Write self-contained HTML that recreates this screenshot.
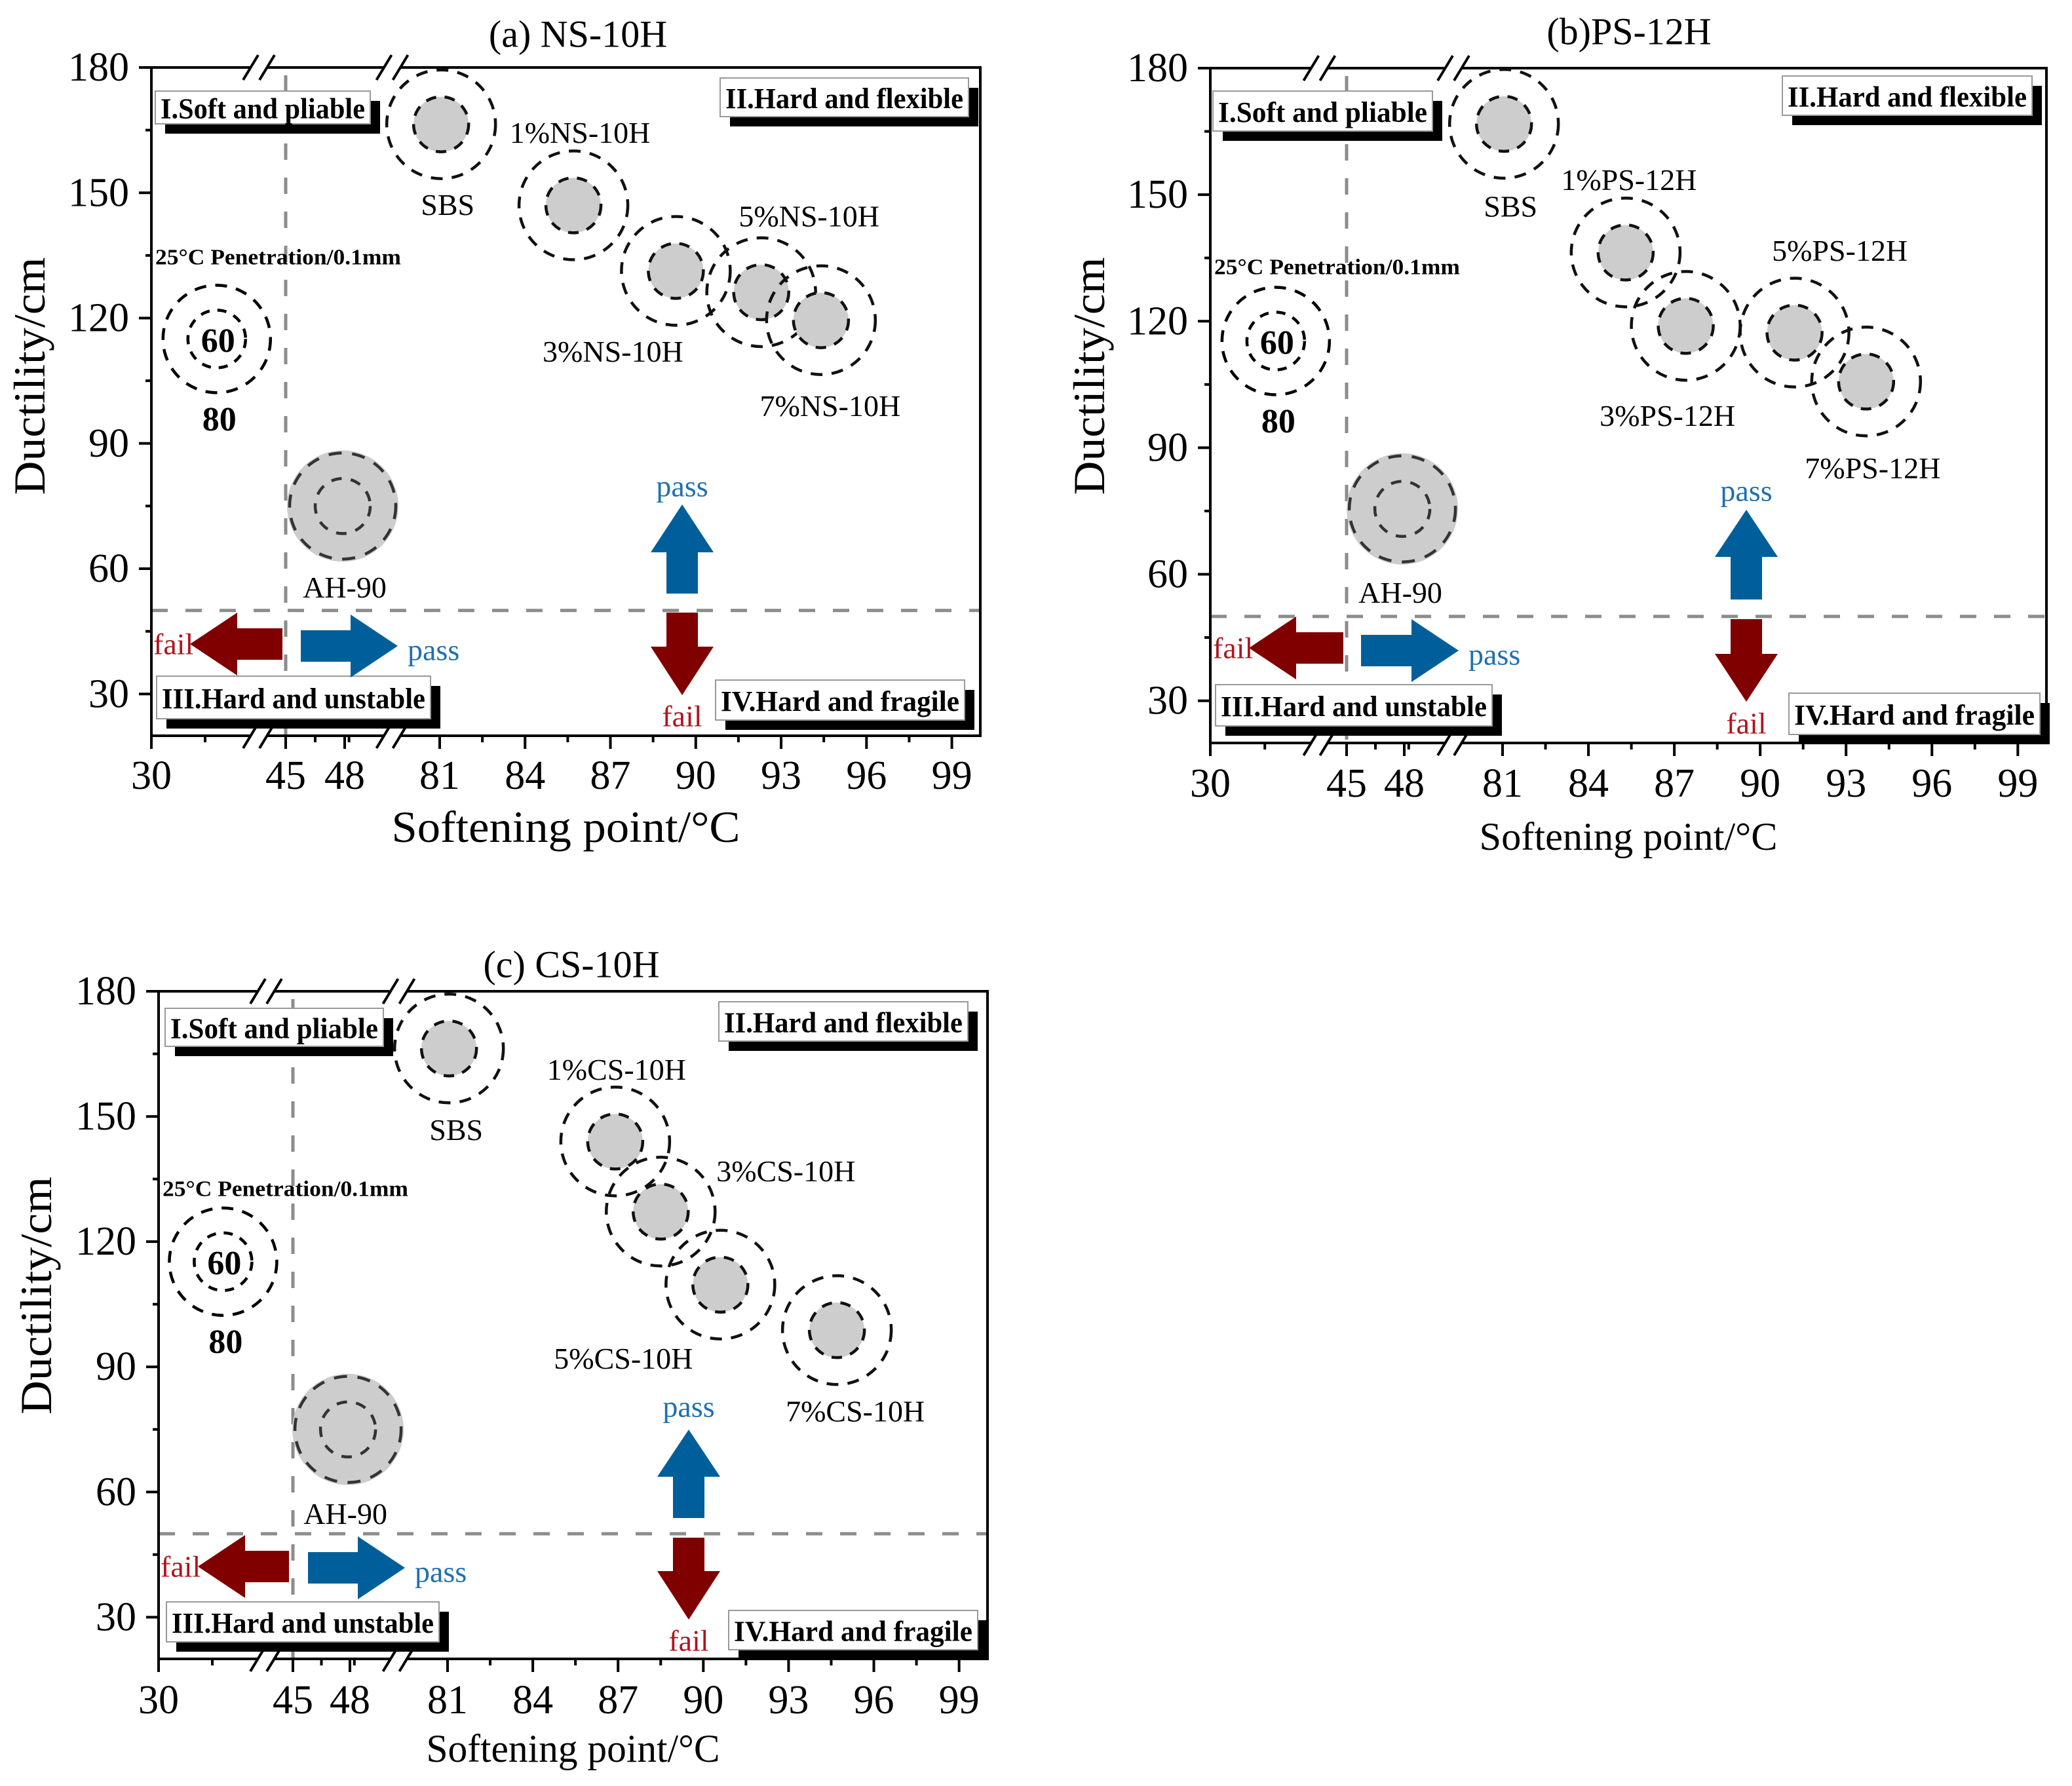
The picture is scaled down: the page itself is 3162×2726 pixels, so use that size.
<!DOCTYPE html>
<html><head><meta charset="utf-8">
<style>
html,body{margin:0;padding:0;background:#fff;}
svg, svg text{font-family:"Liberation Serif","DejaVu Serif",serif;}
</style></head>
<body>
<svg id="fig" xmlns="http://www.w3.org/2000/svg" width="3162" height="2721" viewBox="0 0 3162 2721" font-family="Liberation Serif, DejaVu Serif, serif"></svg>
<script>
// ---------- DATA ----------
// Panel (a) NS-10H
const namesA = ["SBS","1%NS-10H","3%NS-10H","5%NS-10H","7%NS-10H"];
const softA  = [81.05, 85.7, 89.3, 92.3, 94.4];
const ductA  = [166.4, 147, 131.3, 126.2, 119.5];
// Panel (b) PS-12H
const namesB = ["SBS","1%PS-12H","3%PS-12H","5%PS-12H","7%PS-12H"];
const softB  = [81.05, 85.3, 87.4, 91.2, 93.7];
const ductB  = [166.8, 136.3, 118.9, 117.3, 105.7];
// Panel (c) CS-10H
const namesC = ["SBS","1%CS-10H","3%CS-10H","5%CS-10H","7%CS-10H"];
const softC  = [81.05, 86.9, 88.5, 90.6, 94.7];
const ductC  = [166.3, 144, 127.2, 109.7, 98.8];
// Base asphalt AH-90 and penetration reference circle
const ahSoft = [47.9, 47.9, 47.9];
const ahDuct = [75, 75.5, 75];
const refSoft = [37.3, 37.2, 37.2];
const refDuct = [115, 115.3, 115.2];
// thresholds
const softLimit = 45;
const ductLimit = 50;
// ticks
const xMajor = [30,45,48,81,84,87,90,93,96,99];
const xMinor = [36,46.5,49.5,82.5,85.5,88.5,91.5,94.5,97.5];
const yMajor = [30,60,90,120,150,180];
const yMinor = [45,75,105,135,165];

// ---------- LAYOUT (pixel calibration, not data) ----------
const panels = [
 {id:"a", title:"(a) NS-10H", names:namesA, sx:softA, sy:ductA,
  xd:[30,45,48,81,100], xp:[231,436,526,671,1496], y0:1123, y1:103,
  lab:[[10,123],[10,-111],[-96,123],[73,-116],[14,131]], ahLab:[3,124],
  titleX:882, titleY:52, titleFs:58, xtY:1184, xtFs:62, xTitleY:1262, xTitleFs:68, xTitleLen:532, yTitleX:45, yTitleFs:68,
  boxes:[[237,139,565,189,"I.Soft and pliable"],[1099,119,1478,178,"II.Hard and flexible"],[239,1032,657,1097,"III.Hard and unstable"],[1092,1038,1472,1099,"IV.Hard and fragile"]],
  lArrow:[290,431,983], rArrow:[459,607,986], uArrow:[1041,770,843,906], dArrow:[1041,935,987,1061],
  passUpY:742, failDnY:1093, failX:234, passX:622, penY:393},
 {id:"b", title:"(b)PS-12H", names:namesB, sx:softB, sy:ductB,
  xd:[30,45,48,81,100], xp:[1847,2055,2143,2293,3123], y0:1134, y1:104,
  lab:[[10,126],[5,-111],[-28,137],[69,-125],[10,132]], ahLab:[-3,128],
  titleX:2486, titleY:48, titleFs:58, xtY:1196, xtFs:62, xTitleY:1277, xTitleFs:60, xTitleLen:455, yTitleX:1662, yTitleFs:68,
  boxes:[[1851,139,2186,200,"I.Soft and pliable"],[2720,116,3101,176,"II.Hard and flexible"],[1855,1045,2277,1108,"III.Hard and unstable"],[2730,1058,3113,1121,"IV.Hard and fragile"]],
  lArrow:[1906,2050,989], rArrow:[2077,2226,993], uArrow:[2665,778,850,915], dArrow:[2665,945,998,1071],
  passUpY:749, failDnY:1104, failX:1851, passX:2241, penY:408},
 {id:"c", title:"(c) CS-10H", names:namesC, sx:softC, sy:ductC,
  xd:[30,45,48,81,100], xp:[242,447,534,683,1507], y0:2532, y1:1513,
  lab:[[11,124],[2,-110],[191,-62],[-148,113],[28,124]], ahLab:[-4,129],
  titleX:872, titleY:1472, titleFs:58, xtY:2595, xtFs:62, xTitleY:2669, xTitleFs:60, xTitleLen:448, yTitleX:55, yTitleFs:68,
  boxes:[[252,1539,585,1597,"I.Soft and pliable"],[1097,1529,1477,1589,"II.Hard and flexible"],[254,2445,670,2506,"III.Hard and unstable"],[1112,2458,1492,2518,"IV.Hard and fragile"]],
  lArrow:[302,441,2391], rArrow:[470,618,2393], uArrow:[1051,2182,2254,2317], dArrow:[1051,2347,2398,2472],
  passUpY:2147, failDnY:2504, failX:245, passX:633, penY:1815}
];
const dataSets = [[ahSoft[0],ahDuct[0],refSoft[0],refDuct[0]],[ahSoft[1],ahDuct[1],refSoft[1],refDuct[1]],[ahSoft[2],ahDuct[2],refSoft[2],refDuct[2]]];

const NS="http://www.w3.org/2000/svg";
const FONT="Liberation Serif, DejaVu Serif, serif";
const svg=document.getElementById("fig");
function mk(tag, attrs, parent, text){
  const e=document.createElementNS(NS,tag);
  for(const k in attrs) e.setAttribute(k, attrs[k]);
  if(tag==="text") e.setAttribute("font-family", FONT);
  if(text!==undefined) e.textContent=text;
  (parent||svg).appendChild(e);
  return e;
}
const RED="#800000", BLUE="#005f9a", FAILTXT="#b0141e", PASSTXT="#1f6fb0";

panels.forEach((P,pi)=>{
  const g=mk("g",{});
  
  
  const xS=v=>{
    const d=P.xd,p=P.xp;
    for(let i=0;i<d.length-1;i++){ if(v<=d[i+1]||i===d.length-2) return p[i]+(v-d[i])/(d[i+1]-d[i])*(p[i+1]-p[i]); }
  };
  const yS=v=>P.y0+(v-20)/(180-20)*(P.y1-P.y0);
  const L=P.xp[0], R=P.xp[4], T=P.y1, B=P.y0;

  const t=mk("text",{x:P.titleX,y:P.titleY,"font-size":P.titleFs,"text-anchor":"middle","dominant-baseline":"central",fill:"#000"},g,P.title);
  
  

  const vl=mk("line",{x1:xS(softLimit),x2:xS(softLimit),y1:T+12,y2:B,stroke:"#8c8c8c","stroke-width":5,"stroke-dasharray":"25 27"},g);
  
  
  const hl=mk("line",{x1:L,x2:R,y1:yS(ductLimit),y2:yS(ductLimit),stroke:"#8c8c8c","stroke-width":5,"stroke-dasharray":"25 27"},g);
  
  

  const fr=mk("rect",{x:L,y:T,width:R-L,height:B-T,fill:"none",stroke:"#000","stroke-width":4},g);
  
  

  yMajor.forEach(v=>{
    const y=yS(v);
    const tk=mk("line",{x1:L-19,x2:L,y1:y,y2:y,stroke:"#000","stroke-width":4},g);
    
    
    const tl=mk("text",{x:L-34,y:y,"font-size":P.xtFs,"text-anchor":"end","dominant-baseline":"central"},g,String(v));
    
    
  });
  yMinor.forEach(v=>{
    const y=yS(v);
    const tk=mk("line",{x1:L-9,x2:L,y1:y,y2:y,stroke:"#000","stroke-width":4},g);
    
    
  });
  xMajor.forEach(v=>{
    const x=xS(v);
    const tk=mk("line",{x1:x,x2:x,y1:B,y2:B+20,stroke:"#000","stroke-width":4},g);
    
    
    const tl=mk("text",{x:x,y:P.xtY,"font-size":P.xtFs,"text-anchor":"middle","dominant-baseline":"central"},g,String(v));
    
    
  });
  xMinor.forEach(v=>{
    const x=xS(v);
    const tk=mk("line",{x1:x,x2:x,y1:B,y2:B+10,stroke:"#000","stroke-width":4},g);
    
    
  });
  [xS(42),(xS(48)+xS(81))/2].forEach(bx=>{
    [T,B].forEach(by=>{
      const bg=mk("g",{},g);
      
      
      mk("rect",{x:bx-12,y:by-6,width:24,height:12,fill:"#fff"},bg);
      mk("line",{x1:bx-24,y1:by+19,x2:bx-1,y2:by-19,stroke:"#000","stroke-width":4},bg);
      mk("line",{x1:bx+1,y1:by+19,x2:bx+24,y2:by-19,stroke:"#000","stroke-width":4},bg);
    });
  });

  const xt=mk("text",{x:(L+R)/2,y:P.xTitleY,"font-size":P.xTitleFs,"text-anchor":"middle","dominant-baseline":"central",textLength:P.xTitleLen,lengthAdjust:"spacingAndGlyphs"},g,"Softening point/°C");
  
  
  const ycY=(T+B)/2+(pi===0?-39:-45);
  const yt=mk("text",{x:P.yTitleX,y:ycY,"font-size":P.yTitleFs,"text-anchor":"middle","dominant-baseline":"central",transform:`rotate(-90 ${P.yTitleX} ${ycY})`,textLength:363,lengthAdjust:"spacingAndGlyphs"},g,"Ductility/cm");
  
  

  P.boxes.forEach((b,bi)=>{
    const bg=mk("g",{},g);
    
    
    mk("rect",{x:b[0]+15,y:b[1]+15,width:b[2]-b[0],height:b[3]-b[1],fill:"#000"},bg);
    mk("rect",{x:b[0],y:b[1],width:b[2]-b[0],height:b[3]-b[1],fill:"#fff",stroke:"#999","stroke-width":2},bg);
    mk("text",{x:b[0]+8,y:(b[1]+b[3])/2+2,"font-size":44,"font-weight":"bold","dominant-baseline":"central",textLength:b[2]-b[0]-16,lengthAdjust:"spacingAndGlyphs"},bg,b[4]);
  });

  const ds=dataSets[pi];
  const rx=xS(ds[2]), ry=yS(ds[3]);
  const pg=mk("g",{},g);
  
  
  mk("text",{x:L+6,y:P.penY,"font-size":34,"font-weight":"bold","dominant-baseline":"central",textLength:375,lengthAdjust:"spacingAndGlyphs"},pg,"25°C Penetration/0.1mm");
  mk("circle",{cx:rx,cy:ry,r:82,fill:"none",stroke:"#000","stroke-width":4.5,"stroke-dasharray":"18 14"},pg);
  mk("circle",{cx:rx,cy:ry,r:44,fill:"none",stroke:"#000","stroke-width":4.5,"stroke-dasharray":"14 12"},pg);
  mk("text",{x:rx+2,y:ry+3,"font-size":52,"font-weight":"bold","text-anchor":"middle","dominant-baseline":"central"},pg,"60");
  mk("text",{x:rx+4,y:ry+123,"font-size":52,"font-weight":"bold","text-anchor":"middle","dominant-baseline":"central"},pg,"80");

  const ax=xS(ds[0]), ay=yS(ds[1]);
  const ag=mk("g",{},g);
  
  
  mk("circle",{cx:ax,cy:ay,r:85,fill:"#cdcdcd"},ag);
  mk("circle",{cx:ax,cy:ay,r:81,fill:"none",stroke:"#333","stroke-width":4.5,"stroke-dasharray":"20 16"},ag);
  mk("circle",{cx:ax,cy:ay,r:42,fill:"none",stroke:"#333","stroke-width":4.5,"stroke-dasharray":"16 14"},ag);
  mk("text",{x:ax+P.ahLab[0],y:ay+P.ahLab[1],"font-size":46,"text-anchor":"middle","dominant-baseline":"central"},ag,"AH-90");

  P.names.forEach((n,i)=>{
    const cx=xS(P.sx[i]), cy=yS(P.sy[i]);
    const pt=mk("g",{},g);
    
    
    mk("circle",{cx:cx,cy:cy,r:42,fill:"#cdcdcd"},pt);
    mk("circle",{cx:cx,cy:cy,r:42,fill:"none",stroke:"#111","stroke-width":4.5,"stroke-dasharray":"16 13"},pt);
    mk("circle",{cx:cx,cy:cy,r:83,fill:"none",stroke:"#111","stroke-width":4.5,"stroke-dasharray":"18 14"},pt);
    const lb=mk("text",{x:cx+P.lab[i][0],y:cy+P.lab[i][1],"font-size":46,"text-anchor":"middle","dominant-baseline":"central"},g,n);
    
    
  });

  const hl2=72, hh=48, sh=24;
  const la=P.lArrow, ra=P.rArrow, ua=P.uArrow, da=P.dArrow;
  const a1=mk("polygon",{fill:RED,points:`${la[0]},${la[2]} ${la[0]+hl2},${la[2]-hh} ${la[0]+hl2},${la[2]-sh} ${la[1]},${la[2]-sh} ${la[1]},${la[2]+sh} ${la[0]+hl2},${la[2]+sh} ${la[0]+hl2},${la[2]+hh}`},g);
  
  
  const a2=mk("polygon",{fill:BLUE,points:`${ra[1]},${ra[2]} ${ra[1]-hl2},${ra[2]-hh} ${ra[1]-hl2},${ra[2]-sh} ${ra[0]},${ra[2]-sh} ${ra[0]},${ra[2]+sh} ${ra[1]-hl2},${ra[2]+sh} ${ra[1]-hl2},${ra[2]+hh}`},g);
  
  
  const a3=mk("polygon",{fill:BLUE,points:`${ua[0]},${ua[1]} ${ua[0]+hh},${ua[2]} ${ua[0]+sh},${ua[2]} ${ua[0]+sh},${ua[3]} ${ua[0]-sh},${ua[3]} ${ua[0]-sh},${ua[2]} ${ua[0]-hh},${ua[2]}`},g);
  
  
  const a4=mk("polygon",{fill:RED,points:`${da[0]-sh},${da[1]} ${da[0]+sh},${da[1]} ${da[0]+sh},${da[2]} ${da[0]+hh},${da[2]} ${da[0]},${da[3]} ${da[0]-hh},${da[2]} ${da[0]-sh},${da[2]}`},g);
  
  
  const t1=mk("text",{x:P.failX,y:la[2],"font-size":46,fill:FAILTXT,"dominant-baseline":"central"},g,"fail");
  
  
  const t2=mk("text",{x:P.passX,y:ra[2]+6,"font-size":46,fill:PASSTXT,"dominant-baseline":"central"},g,"pass");
  
  
  const t3=mk("text",{x:ua[0],y:P.passUpY,"font-size":46,fill:PASSTXT,"text-anchor":"middle","dominant-baseline":"central"},g,"pass");
  
  
  const t4=mk("text",{x:da[0],y:P.failDnY,"font-size":46,fill:FAILTXT,"text-anchor":"middle","dominant-baseline":"central"},g,"fail");
  
  
});
</script>
</body></html>
